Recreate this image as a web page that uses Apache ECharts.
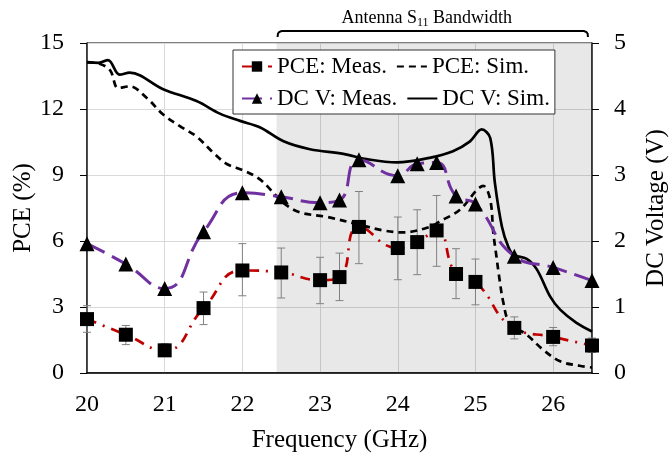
<!DOCTYPE html>
<html>
<head>
<meta charset="utf-8">
<script src="https://cdn.jsdelivr.net/npm/echarts@6/dist/echarts.min.js"></script>
<style>
  html, body { margin: 0; padding: 0; background: #fff; }
  #chart { width: 671px; height: 454px; }
</style>
</head>
<body>
<div id="chart"></div>
<script>
// measured points (GHz)
var freq = [20, 20.5, 21, 21.5, 22, 22.5, 23, 23.25, 23.5, 24, 24.25, 24.5, 24.75, 25, 25.5, 26, 26.5];
var pceMeas = [2.45, 1.74, 1.03, 2.95, 4.66, 4.57, 4.22, 4.36, 6.64, 5.68, 5.95, 6.48, 4.5, 4.14, 2.05, 1.64, 1.25];
var pceLow = [1.85, 1.29, 0.79, 2.2, 3.51, 3.41, 3.15, 3.29, 4.97, 4.24, 4.47, 4.85, 3.38, 3.1, 1.55, 1.24, 0.94];
var pceHigh = [3.06, 2.16, 1.33, 3.68, 5.88, 5.68, 5.26, 5.45, 8.25, 7.09, 7.42, 8.07, 5.65, 5.18, 2.55, 2.07, 1.59];
var dcMeas = [1.96, 1.65, 1.28, 2.14, 2.73, 2.67, 2.58, 2.62, 3.23, 2.99, 3.17, 3.19, 2.68, 2.56, 1.77, 1.60, 1.40];

// simulated curves
var pceSimFreq = [20, 20.17, 20.3, 20.4, 20.55, 20.77, 20.98, 21.2, 21.41, 21.63, 21.8, 22.01, 22.23, 22.53, 22.74,
  23.08, 23.51, 23.81, 24.07, 24.41, 24.54, 24.8, 25.02, 25.1, 25.19, 25.23, 25.27, 25.3, 25.36, 25.44, 25.66, 25.87, 26.09, 26.34, 26.5];
var pceSim = [14.12, 14.05, 13.75, 12.95, 13.03, 12.5, 11.75, 11.21, 10.75, 10.0, 9.5, 9.21, 8.79, 7.73, 7.3,
  7.1, 6.74, 6.48, 6.39, 6.64, 6.89, 7.42, 8.33, 8.51, 7.88, 6.36, 5.3, 4.5, 3.18, 2.27, 1.74, 1.06, 0.53, 0.33, 0.25];

var dcSimFreq = [20, 20.15, 20.27, 20.42, 20.55, 20.98, 21.41, 21.71, 21.97, 22.23, 22.53, 22.87, 23.3, 23.6, 23.99, 24.41,
  24.71, 24.93, 25.08, 25.19, 25.25, 25.34, 25.42, 25.49, 25.66, 25.79, 25.96, 26.09, 26.3, 26.5];
var dcSim = [4.71, 4.70, 4.74, 4.52, 4.55, 4.30, 4.12, 3.93, 3.82, 3.72, 3.51, 3.39, 3.32, 3.24, 3.19, 3.26,
  3.36, 3.51, 3.69, 3.56, 2.88, 2.22, 1.92, 1.79, 1.73, 1.57, 1.16, 0.96, 0.76, 0.63];

var xTicks = [20, 21, 22, 23, 24, 25, 26];
var bandStart = 22.44, bandEnd = 26.5;

function pairs(xs, ys) {
  return xs.map(function (x, i) { return [x, ys[i]]; });
}

var FONT = "'Liberation Serif', 'Times New Roman', serif";
var chart = echarts.init(document.getElementById('chart'));

var option = {
  animation: false,
  textStyle: { fontFamily: FONT, color: '#000' },
  grid: {
    left: 87, right: 79, top: 43, bottom: 81,
    containLabel: false, outerBoundsMode: 'none',
    show: true, borderColor: '#000', borderWidth: 1, backgroundColor: 'transparent'
  },
  legend: {
    data: [
      { name: 'PCE: Meas.' },
      { name: 'PCE: Sim.', itemStyle: { opacity: 0 } },
      { name: 'DC V: Meas.' },
      { name: 'DC V: Sim.', itemStyle: { opacity: 0 } }
    ],
    left: 233, top: 50, width: 345,
    padding: [5, 5, 4, 8],
    itemGap: 9, itemWidth: 30, itemHeight: 13,
    backgroundColor: '#fff', borderColor: '#333', borderWidth: 1,
    formatter: '{a|{name}}',
    textStyle: { fontFamily: FONT, fontSize: 23, color: '#000', rich: { a: { width: 130, fontSize: 23, fontFamily: FONT } } }
  },
  xAxis: {
    type: 'value', min: 20, max: 26.5, interval: 1,
    name: 'Frequency (GHz)', nameLocation: 'middle', nameGap: 55, nameMoveOverlap: false,
    nameTextStyle: { fontSize: 25, fontFamily: FONT, color: '#000' },
    axisLine: { lineStyle: { color: '#000', width: 1.5 } },
    axisTick: { show: false },
    axisLabel: {
      fontSize: 24, fontFamily: FONT, color: '#000', margin: 20,
      formatter: function (v) { return xTicks.indexOf(v) >= 0 ? String(v) : ''; }
    },
    splitLine: { show: true, lineStyle: { color: '#d9d9d9', width: 1 } }
  },
  yAxis: [{
    type: 'value', min: 0, max: 15, interval: 3,
    name: 'PCE (%)', nameLocation: 'middle', nameGap: 51, nameRotate: 90, nameMoveOverlap: false,
    nameTextStyle: { fontSize: 25, fontFamily: FONT, color: '#000' },
    axisLine: { show: true, lineStyle: { color: '#222', width: 1.5 } },
    axisTick: { show: true, length: 7, lineStyle: { color: '#000' } },
    axisLabel: { fontSize: 24, fontFamily: FONT, color: '#000', margin: 23 },
    splitLine: { show: true, lineStyle: { color: '#d9d9d9', width: 1 } }
  }, {
    type: 'value', min: 0, max: 5, interval: 1, position: 'right',
    name: 'DC Voltage (V)', nameLocation: 'middle', nameGap: 52, nameRotate: 90, nameMoveOverlap: false,
    nameTextStyle: { fontSize: 25, fontFamily: FONT, color: '#000' },
    axisLine: { show: true, lineStyle: { color: '#222', width: 1.5 } },
    axisTick: { show: true, length: 7, lineStyle: { color: '#000' } },
    axisLabel: { fontSize: 24, fontFamily: FONT, color: '#000', margin: 22 },
    splitLine: { show: false }
  }],
  series: [{
    name: 'err',
    type: 'custom',
    z: 1,
    yAxisIndex: 0,
    data: freq.map(function (f, i) { return [f, pceLow[i], pceHigh[i]]; }),
    renderItem: function (params, api) {
      var lo = api.coord([api.value(0), api.value(1)]);
      var hi = api.coord([api.value(0), api.value(2)]);
      var w = 4;
      var st = { stroke: '#808080', lineWidth: 1 };
      return {
        type: 'group',
        children: [
          { type: 'line', shape: { x1: lo[0], y1: lo[1], x2: hi[0], y2: hi[1] }, style: st },
          { type: 'line', shape: { x1: lo[0] - w, y1: lo[1], x2: lo[0] + w, y2: lo[1] }, style: st },
          { type: 'line', shape: { x1: hi[0] - w, y1: hi[1], x2: hi[0] + w, y2: hi[1] }, style: st }
        ]
      };
    },
    markArea: {
      silent: true,
      itemStyle: { color: 'rgba(0,0,0,0.09)' },
      data: [[{ xAxis: bandStart }, { xAxis: bandEnd }]]
    }
  }, {
    name: 'PCE: Sim.',
    type: 'line', yAxisIndex: 0,
    data: pairs(pceSimFreq, pceSim),
    smooth: 0.35,
    symbol: 'none',
    itemStyle: { color: '#000' },
    lineStyle: { color: '#000', width: 2.7, type: [7, 5] }
  }, {
    name: 'DC V: Sim.',
    type: 'line', yAxisIndex: 1,
    data: pairs(dcSimFreq, dcSim),
    smooth: 0.35,
    symbol: 'none',
    itemStyle: { color: '#000' },
    lineStyle: { color: '#000', width: 2.7 }
  }, {
    name: 'PCE: Meas.',
    type: 'line', yAxisIndex: 0,
    data: pairs(freq, pceMeas),
    smooth: 0.5,
    symbol: 'rect', symbolSize: 14,
    itemStyle: { color: '#000' },
    lineStyle: { color: '#c00000', width: 2.7, type: [10, 7, 2, 7] },
    z: 3
  }, {
    name: 'DC V: Meas.',
    type: 'line', yAxisIndex: 1,
    data: pairs(freq, dcMeas),
    smooth: 0.5,
    symbol: 'triangle', symbolSize: 15,
    itemStyle: { color: '#000' },
    lineStyle: { color: '#7030a0', width: 3, type: [20, 8] },
    z: 3
  }]
};

chart.setOption(option);

// bracket above the shaded band
var bx0 = chart.convertToPixel({ xAxisIndex: 0 }, bandStart) + 1;
var bx1 = chart.convertToPixel({ xAxisIndex: 0 }, bandEnd) - 4;
var by = 31, bd = 6;
chart.setOption({
  graphic: [{
    type: 'polyline',
    shape: {
      points: [[bx0, by + bd], [bx0 + 0.4, by + 2.6], [bx0 + 1.6, by + 1], [bx0 + 4, by],
        [bx1 - 4, by], [bx1 - 1.6, by + 1], [bx1 - 0.4, by + 2.6], [bx1, by + bd]]
    },
    style: { stroke: '#000', lineWidth: 2, fill: null }
  }, {
    type: 'text',
    x: (bx0 + bx1) / 2 - 6, y: 18,
    style: {
      text: '{a|Antenna S}{s|11}{a| Bandwidth}',
      align: 'center', verticalAlign: 'middle',
      rich: {
        a: { fontSize: 18, fontFamily: FONT, fill: '#000', lineHeight: 22 },
        s: { fontSize: 12, fontFamily: FONT, fill: '#000', verticalAlign: 'bottom', padding: [9, 0, 0, 0] }
      }
    }
  }]
});
</script>
</body>
</html>
